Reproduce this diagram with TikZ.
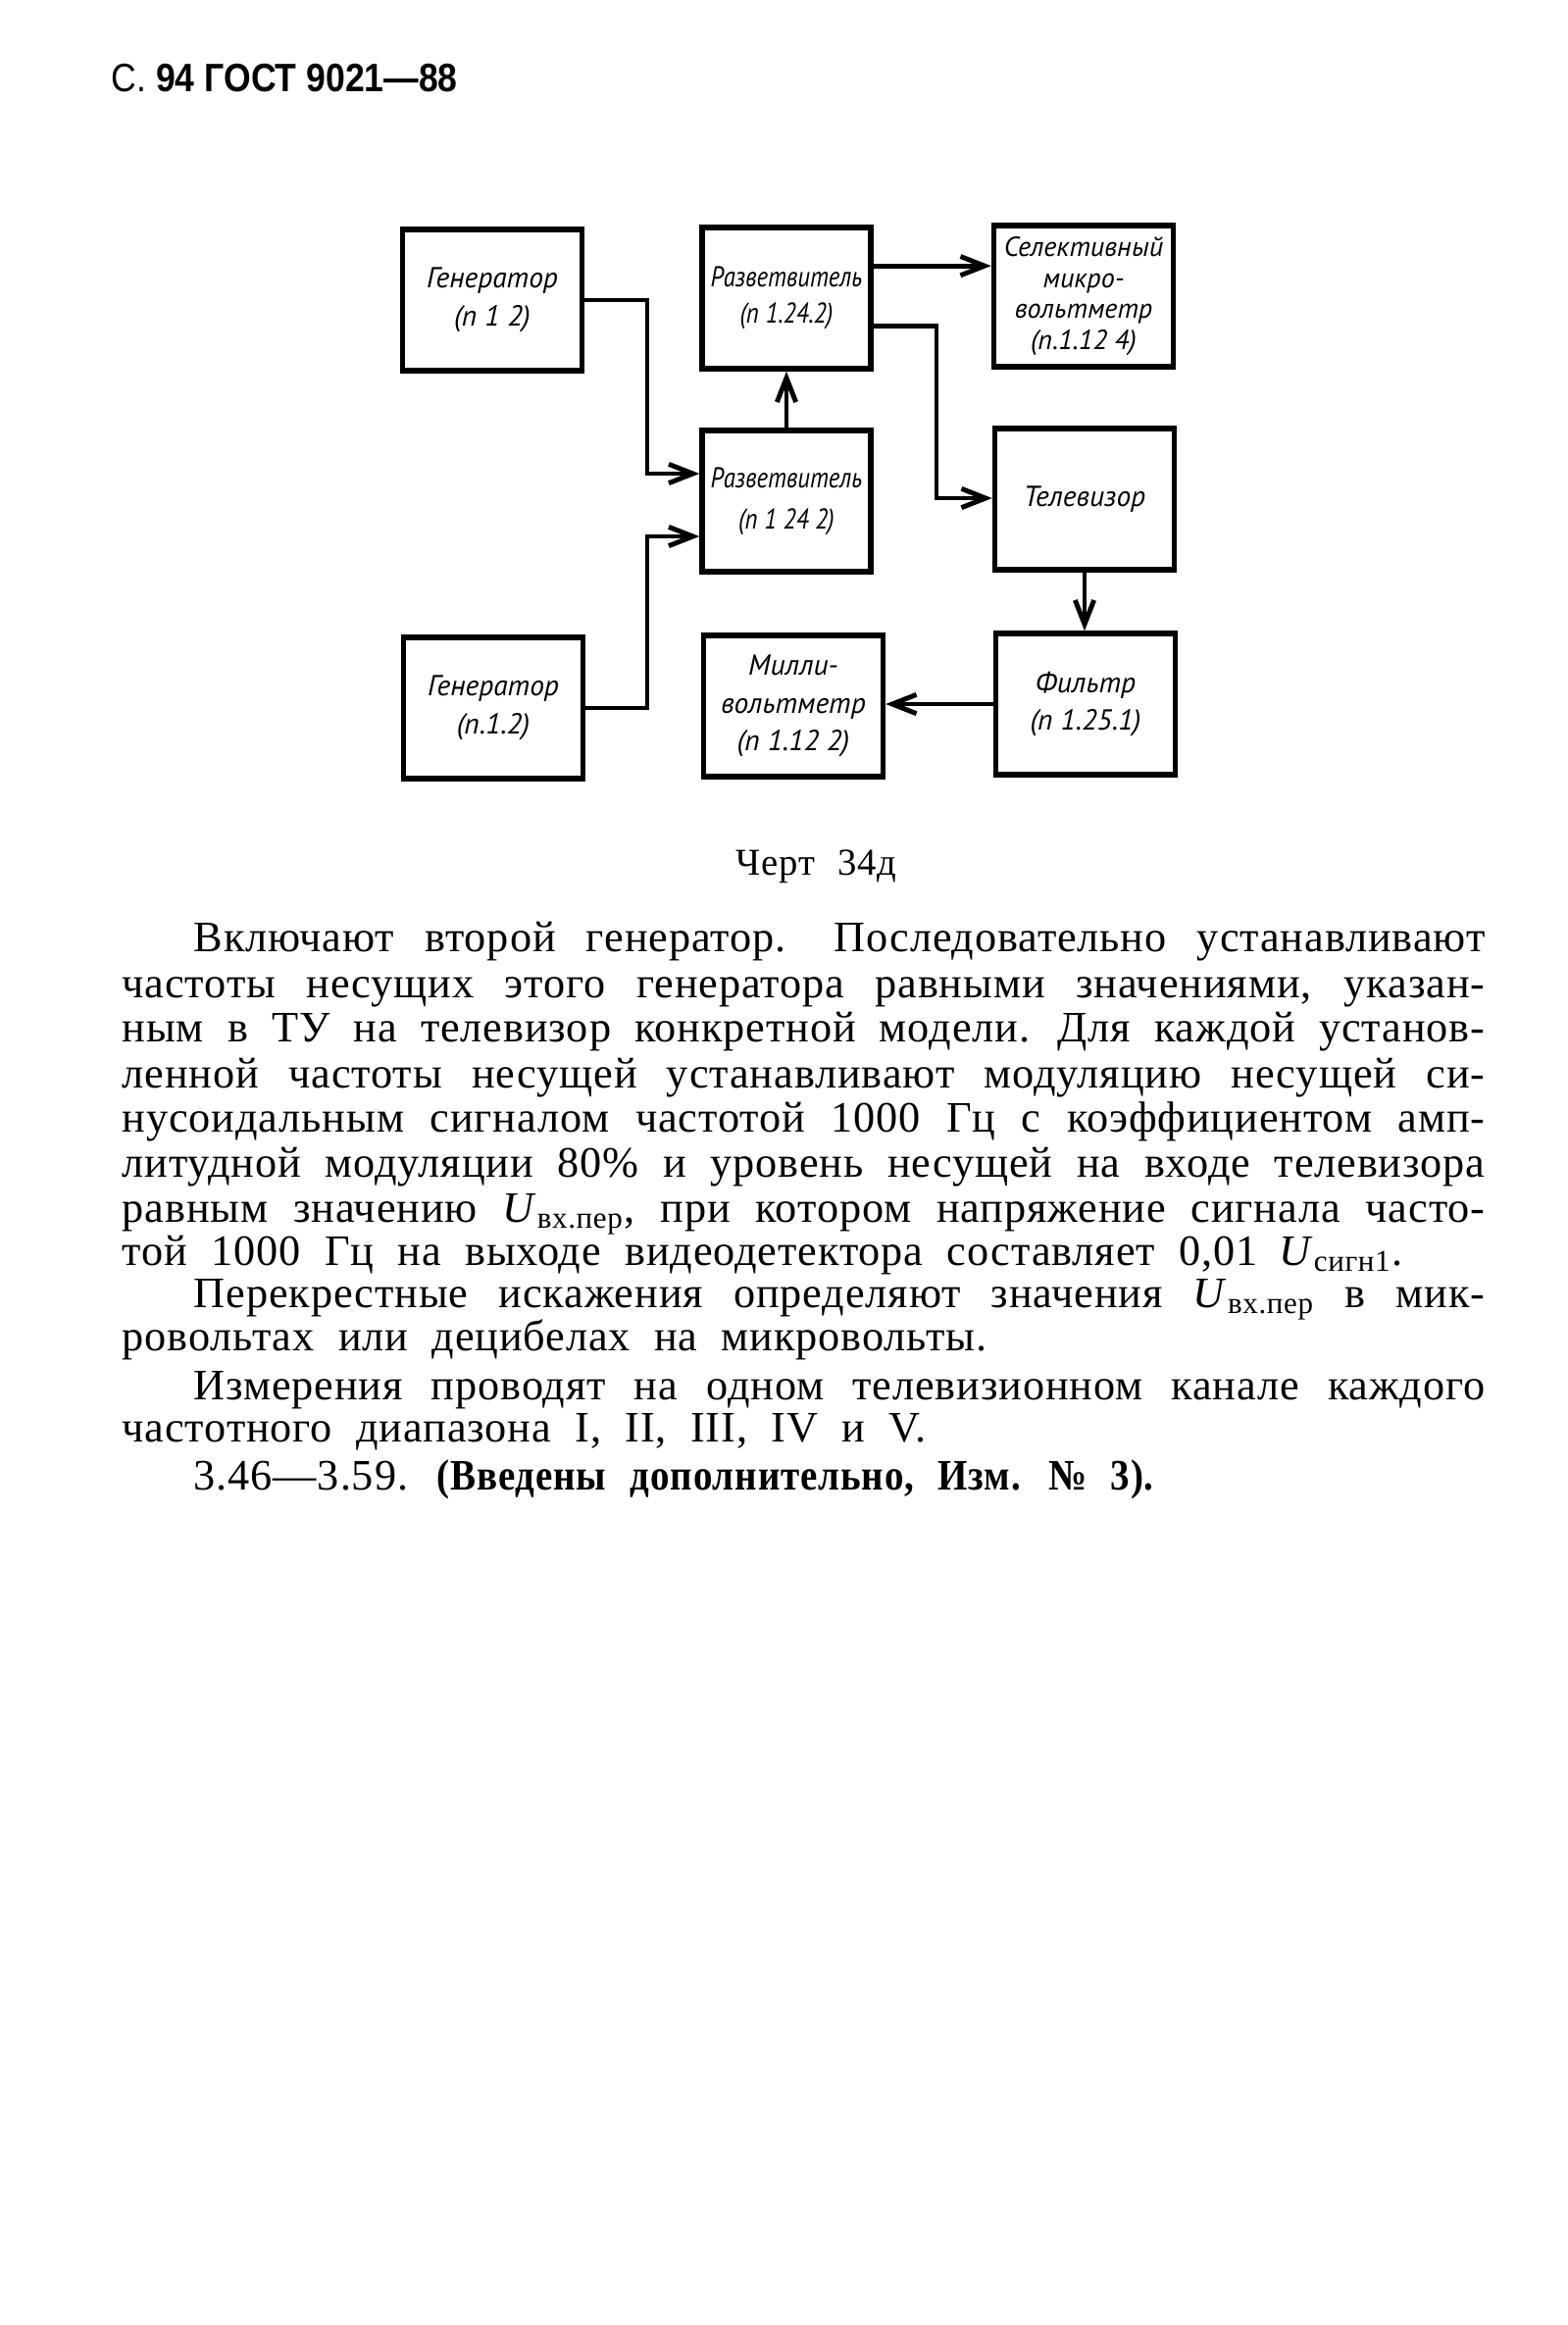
\documentclass[tikz,border=0pt]{standalone}
\usepackage{amsmath,amssymb}
\usepackage{xcolor}
\usepackage{fontspec}
\setmainfont{Liberation Serif}
\newfontfamily\bodyfont{Liberation Serif}[LetterSpace=2,BoldFeatures={FakeStretch=0.88}]
\newfontfamily\drawfont{PT Sans}
\newfontfamily\drawnarrow{PT Sans}[FakeStretch=0.85]
\newfontfamily\hdrfont{Liberation Sans}[FakeStretch=0.88]
\usepackage{tikz}
\usetikzlibrary{calc,arrows.meta}
\newcommand{\bodysetup}{\bodyfont\fontsize{12.6}{15}\selectfont
  \spaceskip=0.55em plus 0.4em minus 0.3em\relax}
\newcommand{\jfull}[1]{\makebox[13.89cm][s]{#1}}
\newcommand{\jind}[1]{\makebox[13.16cm][s]{#1}}
\newcommand{\Uv}{\textit{U}\textsubscript{вх.пер}}

\begin{document}
\begin{tikzpicture}[x=0.01cm,y=-0.01cm,
  >={Straight Barb[length=7pt,width=5.5pt]},
  blk/.style={draw,line width=1.5pt,minimum width=1.83cm,minimum height=1.44cm,
    inner sep=1pt,align=center,font=\drawfont\itshape\fontsize{8.4}{11}\selectfont},
  wire/.style={line width=1.4pt},
  txt/.style={anchor=base west,inner sep=0pt,font=\bodysetup}]
  \fill[white] (0,0) rectangle (1599,2371);
  \useasboundingbox (0,0) rectangle (1599,2371);

  \node[anchor=base west,inner sep=0pt,font=\hdrfont\fontsize{11.5}{13}\selectfont] (hdr) at (113,93)
    {С. \textbf{94 ГОСТ 9021—88}};

  \node[blk] (gen1) at (502,306) {Генератор\\(п 1 2)};
  \node[blk,minimum width=1.72cm,font=\drawnarrow\itshape\fontsize{8.3}{10.5}\selectfont] (razv1) at (802,304)
    {Разветвитель\\(п 1.24.2)};
  \node[blk,font=\drawfont\itshape\fontsize{8}{9}\selectfont] (selekt) at (1105,302)
    {Селективный\\микро-\\вольтметр\\(п.1.12 4)};
  \node[blk,minimum width=1.72cm,font=\drawnarrow\itshape\fontsize{8.3}{12}\selectfont] (razv2) at (802,511)
    {Разветвитель\\(п 1 24 2)};
  \node[blk] (tel) at (1106,509) {Телевизор};
  \node[blk] (gen2) at (503,722) {Генератор\\(п.1.2)};
  \node[blk] (milli) at (809,720) {Милли-\\вольтметр\\(п 1.12 2)};
  \node[blk] (filtr) at (1107,718) {Фильтр\\(п 1.25.1)};

  \coordinate (j1) at (660,483);
  \coordinate (j2) at (660,547);
  \coordinate (j3) at (955,508);
  \coordinate (r1a) at ($(razv1.north east)!0.28!(razv1.south east)$);
  \coordinate (r1b) at ($(razv1.north east)!0.69!(razv1.south east)$);
  \draw[wire,->] (gen1.east) -| (j1) -- (j1 -| razv2.west);
  \draw[wire,->] (gen2.east) -| (j2) -- (j2 -| razv2.west);
  \draw[wire,->] (razv2.north) -- (razv1.south);
  \draw[wire,->] (r1a) -- (r1a -| selekt.west);
  \draw[wire,->] (r1b) -| (j3) -- (j3 -| tel.west);
  \draw[wire,->] (tel.south) -- (tel.south |- filtr.north);
  \draw[wire,->] (filtr.west) -- (filtr.west -| milli.east);

  \node[anchor=base west,inner sep=0pt,font=\bodyfont\fontsize{11}{13}\selectfont] (cap) at (750,892)
    {Черт\hspace{0.6em}34д};

  \node[txt] (l1) at (197,970) {\jind{Включают второй генератор. Последовательно устанавливают}};
  \node[txt] (l2) at (124,1017) {\jfull{частоты несущих этого генератора равными значениями, указан-}};
  \node[txt] (l3) at (124,1062) {\jfull{ным в ТУ на телевизор конкретной модели. Для каждой установ-}};
  \node[txt] (l4) at (124,1109) {\jfull{ленной частоты несущей устанавливают модуляцию несущей си-}};
  \node[txt] (l5) at (124,1154) {\jfull{нусоидальным сигналом частотой 1000 Гц с коэффициентом амп-}};
  \node[txt] (l6) at (124,1200) {\jfull{литудной модуляции 80\% и уровень несущей на входе телевизора}};
  \node[txt] (l7) at (124,1246) {\jfull{равным значению \Uv, при котором напряжение сигнала часто-}};
  \node[txt] (l8) at (124,1290) {той 1000 Гц на выходе видеодетектора составляет 0,01\enspace\textit{U}\textsubscript{сигн1}.};
  \node[txt] (l9) at (197,1333) {\jind{Перекрестные искажения определяют значения \Uv\ в мик-}};
  \node[txt] (l10) at (124,1377) {ровольтах или децибелах на микровольты.};
  \node[txt] (l11) at (197,1427) {\jind{Измерения проводят на одном телевизионном канале каждого}};
  \node[txt] (l12) at (124,1470) {частотного диапазона I, II, III, IV и V.};
  \node[txt] (l13) at (197,1519) {3.46—3.59. \textbf{(Введены дополнительно, Изм. № 3).}};
\end{tikzpicture}
\end{document}
